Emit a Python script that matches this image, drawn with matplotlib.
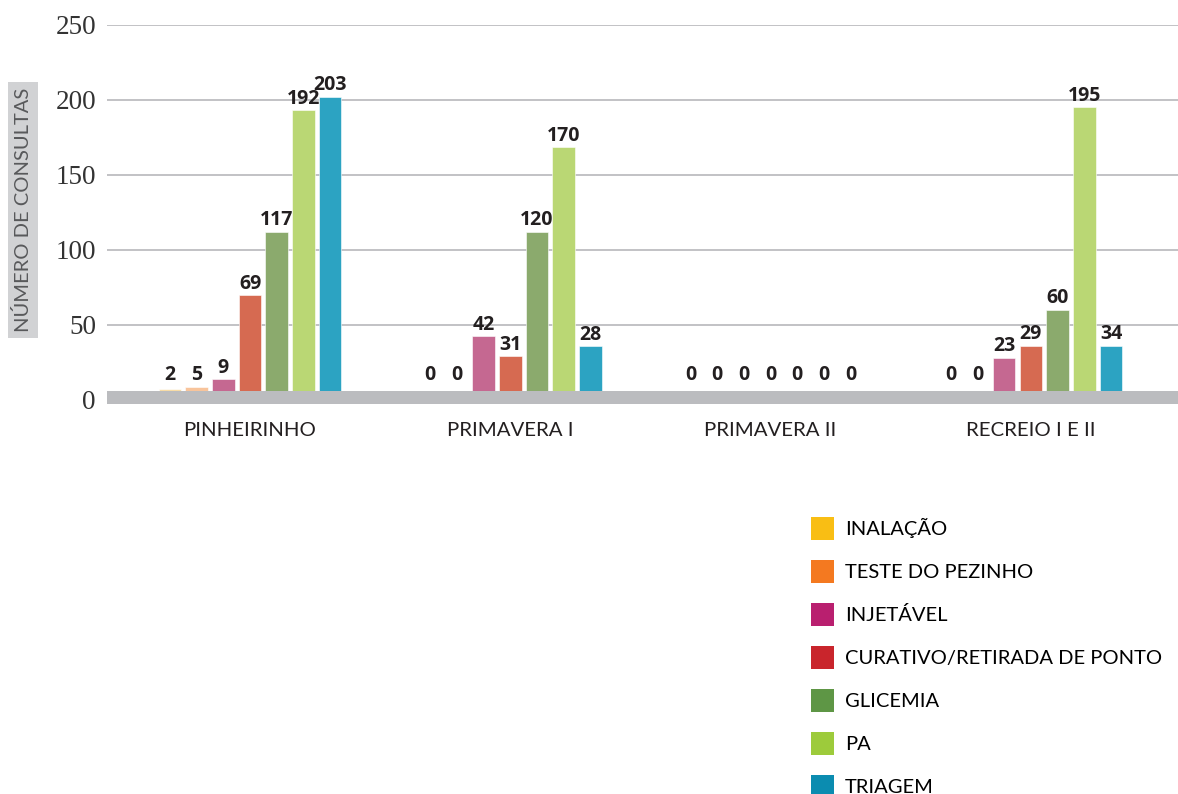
import matplotlib
matplotlib.use("Agg")
import matplotlib.pyplot as plt
from matplotlib.patches import Patch

# data
groups = ["PINHEIRINHO", "PRIMAVERA I", "PRIMAVERA II", "RECREIO I E II"]
series = ["INALAÇÃO", "TESTE DO PEZINHO", "INJETÁVEL", "CURATIVO/RETIRADA DE PONTO",
          "GLICEMIA", "PA", "TRIAGEM"]
# bar heights as drawn (per series, one value per group)
inalacao = [7, 0, 0, 0]
pezinho = [8.5, 0, 0, 0]
injetavel = [13.8, 42.5, 0, 28]
curativo = [69.8, 29, 0, 36]
glicemia = [112, 112, 0, 60]
pa = [193, 168.5, 0, 195]
triagem = [202, 35.8, 0, 36]
# values printed over the bars
lab_inalacao = [2, 0, 0, 0]
lab_pezinho = [5, 0, 0, 0]
lab_injetavel = [9, 42, 0, 23]
lab_curativo = [69, 31, 0, 29]
lab_glicemia = [117, 120, 0, 60]
lab_pa = [192, 170, 0, 195]
lab_triagem = [203, 28, 0, 34]

heights = [inalacao, pezinho, injetavel, curativo, glicemia, pa, triagem]
labels = [lab_inalacao, lab_pezinho, lab_injetavel, lab_curativo, lab_glicemia, lab_pa, lab_triagem]

bar_colors = ["#F8DCA6", "#F8C49B", "#C56891", "#D66A51", "#8BAA6D", "#BAD774", "#2CA3C2"]
leg_colors = ["#F9BE14", "#F47920", "#B91F6F", "#C9252C", "#5E9645", "#9DCB3B", "#0B8CB0"]

fig = plt.figure(figsize=(11.78, 7.94), dpi=100)
ax = fig.add_axes([107 / 1178, 1 - 404.2 / 794, 1 - 107 / 1178, (404.2 - 24.7) / 794])

step = 26.7 / 260.3
bw = 22.5 / 260.3
for j in range(7):
    xs = [i + (j - 3) * step for i in range(len(groups))]
    ax.bar(xs, heights[j], width=bw, color=bar_colors[j], edgecolor="white",
           linewidth=0.4, zorder=2)
    for x, h, v in zip(xs, heights[j], labels[j]):
        ax.annotate(str(v), (x, max(h, 9)), xytext=(0, 1), textcoords="offset points",
                    ha="center", va="bottom", fontsize=14, fontweight="bold",
                    family="Open Sans", color="#231F20", zorder=4)

# gray floor band
ax.axhspan(-3, 5.8, color="#BBBCBF", zorder=3, lw=0)

ax.set_ylim(-3, 250)
ax.set_xlim((107 - 250) / 260.3, (1178 - 250) / 260.3)
ax.set_yticks([0, 50, 100, 150, 200, 250])
for yv in [50, 100, 150, 200, 250]:
    ax.axhline(yv, color="#BDBDC0", lw=1.3, zorder=1)
for s in ax.spines.values():
    s.set_visible(False)
ax.tick_params(axis="y", length=0, pad=8, labelsize=19.5, labelcolor="#333333")
for t in ax.get_yticklabels():
    t.set_family("Liberation Serif")
ax.set_xticks(range(len(groups)))
ax.set_xticklabels(groups, fontsize=14.7, family="Lato", color="#231F20")
ax.tick_params(axis="x", length=0, pad=13)

fig.text(23 / 1178, 1 - 210 / 794, "NÚMERO DE CONSULTAS", rotation=90, ha="center",
         va="center", fontsize=14.5, family="Lato", color="#58595B",
         bbox=dict(facecolor="#D1D2D4", edgecolor="none", pad=4.5))

handles = [Patch(facecolor=c, edgecolor="none") for c in leg_colors]
fig.legend(handles, series, loc="upper left", bbox_to_anchor=(811 / 1178, 1 - 517 / 794),
           frameon=False, prop={"family": "Lato", "size": 14.5},
           handlelength=1.14, handleheight=1.38, labelspacing=0.99, handletextpad=0.55,
           borderpad=0, borderaxespad=0)

fig.savefig("out.png", dpi=100)
